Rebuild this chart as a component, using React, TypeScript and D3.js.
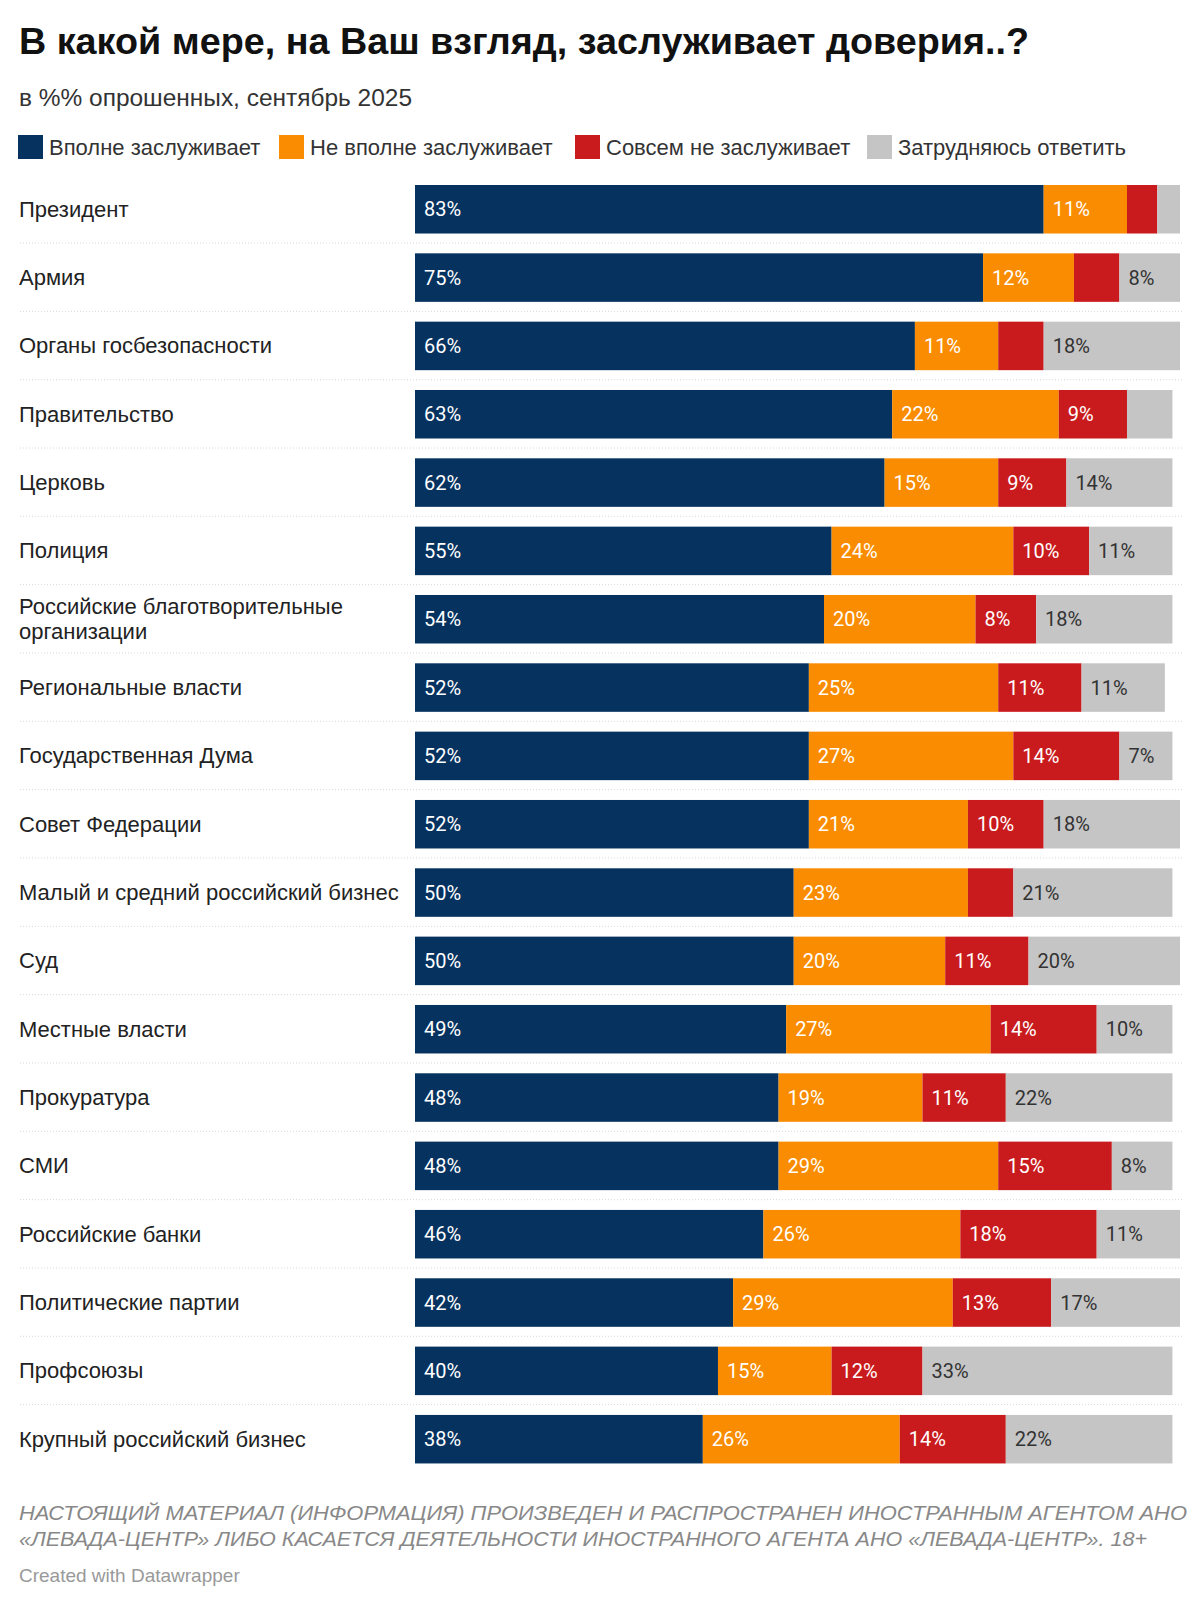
import { useEffect, useRef } from "react";
import * as d3 from "d3";

const categories = [
  "Президент",
  "Армия",
  "Органы госбезопасности",
  "Правительство",
  "Церковь",
  "Полиция",
  "Российские благотворительные организации",
  "Региональные власти",
  "Государственная Дума",
  "Совет Федерации",
  "Малый и средний российский бизнес",
  "Суд",
  "Местные власти",
  "Прокуратура",
  "СМИ",
  "Российские банки",
  "Политические партии",
  "Профсоюзы",
  "Крупный российский бизнес",
];

const fully = [83, 75, 66, 63, 62, 55, 54, 52, 52, 52, 50, 50, 49, 48, 48, 46, 42, 40, 38];
const notFully = [11, 12, 11, 22, 15, 24, 20, 25, 27, 21, 23, 20, 27, 19, 29, 26, 29, 15, 26];
const notAtAll = [4, 6, 6, 9, 9, 10, 8, 11, 14, 10, 6, 11, 14, 11, 15, 18, 13, 12, 14];
const hardToSay = [3, 8, 18, 6, 14, 11, 18, 11, 7, 18, 21, 20, 10, 22, 8, 11, 17, 33, 22];

const seriesNames = [
  "Вполне заслуживает",
  "Не вполне заслуживает",
  "Совсем не заслуживает",
  "Затрудняюсь ответить",
];
const colors = ["#05325f", "#f98c00", "#c91b1d", "#c5c5c5"];
const labelColors = ["#ffffff", "#ffffff", "#ffffff", "#333333"];

// label wrapping as in the original
const labelLines: Record<string, string[]> = {
  "Российские благотворительные организации": ["Российские благотворительные", "организации"],
};

const W = 1200;
const H = 1603;

export default function App() {
  const ref = useRef<HTMLDivElement | null>(null);

  useEffect(() => {
    if (!ref.current) return;
    document.body.style.margin = "0";
    d3.select(ref.current).selectAll("svg").remove();

    const svg = d3
      .select(ref.current)
      .append("svg")
      .attr("width", W)
      .attr("height", H)
      .style("display", "block")
      .style("background", "#fff");

    const sans = "'Liberation Sans', Arial, sans-serif";

    svg
      .append("text")
      .attr("x", 19)
      .attr("y", 54)
      .attr("font-family", sans)
      .attr("font-weight", "bold")
      .attr("font-size", 36)
      .attr("fill", "#111")
      .attr("textLength", 1010)
      .attr("lengthAdjust", "spacingAndGlyphs")
      .text("В какой мере, на Ваш взгляд, заслуживает доверия..?");

    svg
      .append("text")
      .attr("x", 19)
      .attr("y", 106)
      .attr("font-family", sans)
      .attr("font-size", 23)
      .attr("fill", "#333")
      .attr("textLength", 393)
      .attr("lengthAdjust", "spacingAndGlyphs")
      .text("в %% опрошенных, сентябрь 2025");

    // legend
    const legendX = [18, 279, 575, 867];
    const legend = svg.append("g");
    seriesNames.forEach((name, i) => {
      legend
        .append("rect")
        .attr("x", legendX[i])
        .attr("y", 135)
        .attr("width", 25)
        .attr("height", 24)
        .attr("fill", colors[i]);
      legend
        .append("text")
        .attr("x", legendX[i] + 31)
        .attr("y", 155)
        .attr("font-family", sans)
        .attr("font-size", 22)
        .attr("fill", "#333")
        .text(name);
    });

    const x = d3.scaleLinear([0, 101], [415, 1180]);
    const step = 68.33;
    const pad = 0.29;
    const y = d3
      .scaleBand<string>()
      .domain(categories)
      .range([185, 185 + step * (categories.length - pad)])
      .paddingInner(pad)
      .paddingOuter(0);

    const series = [fully, notFully, notAtAll, hardToSay];
    const rows = categories.map((c, i) => {
      let acc = 0;
      const segs = series.map((s, k) => {
        const seg = { k, x0: acc, x1: acc + s[i], v: s[i] };
        acc += s[i];
        return seg;
      });
      return { c, i, segs };
    });

    // dotted separators
    svg
      .append("g")
      .selectAll("line")
      .data(categories.slice(0, -1))
      .join("line")
      .attr("x1", 20)
      .attr("x2", 1182)
      .attr("y1", (d) => (y(d) as number) + y.bandwidth() + 9.5)
      .attr("y2", (d) => (y(d) as number) + y.bandwidth() + 9.5)
      .attr("stroke", "#d8d8d8")
      .attr("stroke-width", 1)
      .attr("stroke-dasharray", "1,2");

    const row = svg
      .append("g")
      .selectAll("g")
      .data(rows)
      .join("g")
      .attr("transform", (d) => `translate(0,${y(d.c)})`);

    const bh = y.bandwidth();

    // category labels
    row.each(function (d) {
      const lines = labelLines[d.c] || [d.c];
      const g = d3.select(this);
      lines.forEach((ln, j) => {
        g.append("text")
          .attr("x", 19)
          .attr("y", bh / 2 + 7.5 + (j - (lines.length - 1) / 2) * 25)
          .attr("font-family", sans)
          .attr("font-size", 22)
          .attr("fill", "#222")
          .text(ln);
      });
    });

    row
      .selectAll("rect")
      .data((d) => d.segs)
      .join("rect")
      .attr("x", (s) => x(s.x0))
      .attr("width", (s) => x(s.x1) - x(s.x0))
      .attr("y", 0)
      .attr("height", bh)
      .attr("fill", (s) => colors[s.k]);

    row
      .selectAll("text.val")
      .data((d) => d.segs.filter((s) => s.v >= 7))
      .join("text")
      .attr("class", "val")
      .attr("x", (s) => x(s.x0) + 9)
      .attr("y", bh / 2 + 7)
      .attr("font-family", "Roboto, sans-serif")
      .attr("font-size", 20)
      .attr("fill", (s) => labelColors[s.k])
      .text((s) => `${s.v}%`);

    // footer
    const foot = [
      "НАСТОЯЩИЙ МАТЕРИАЛ (ИНФОРМАЦИЯ) ПРОИЗВЕДЕН И РАСПРОСТРАНЕН ИНОСТРАННЫМ АГЕНТОМ АНО",
      "«ЛЕВАДА-ЦЕНТР» ЛИБО КАСАЕТСЯ ДЕЯТЕЛЬНОСТИ ИНОСТРАННОГО АГЕНТА АНО «ЛЕВАДА-ЦЕНТР». 18+",
    ];
    const footLen = [1168, 1128];
    foot.forEach((t, i) => {
      svg
        .append("text")
        .attr("x", 19)
        .attr("y", 1520 + i * 26)
        .attr("font-family", sans)
        .attr("font-style", "italic")
        .attr("font-size", 20.5)
        .attr("fill", "#888")
        .attr("textLength", footLen[i])
        .attr("lengthAdjust", "spacingAndGlyphs")
        .text(t);
    });

    svg
      .append("text")
      .attr("x", 19)
      .attr("y", 1582)
      .attr("font-family", sans)
      .attr("font-size", 19)
      .attr("fill", "#999")
      .text("Created with Datawrapper");
  }, []);

  return <div ref={ref}></div>;
}
